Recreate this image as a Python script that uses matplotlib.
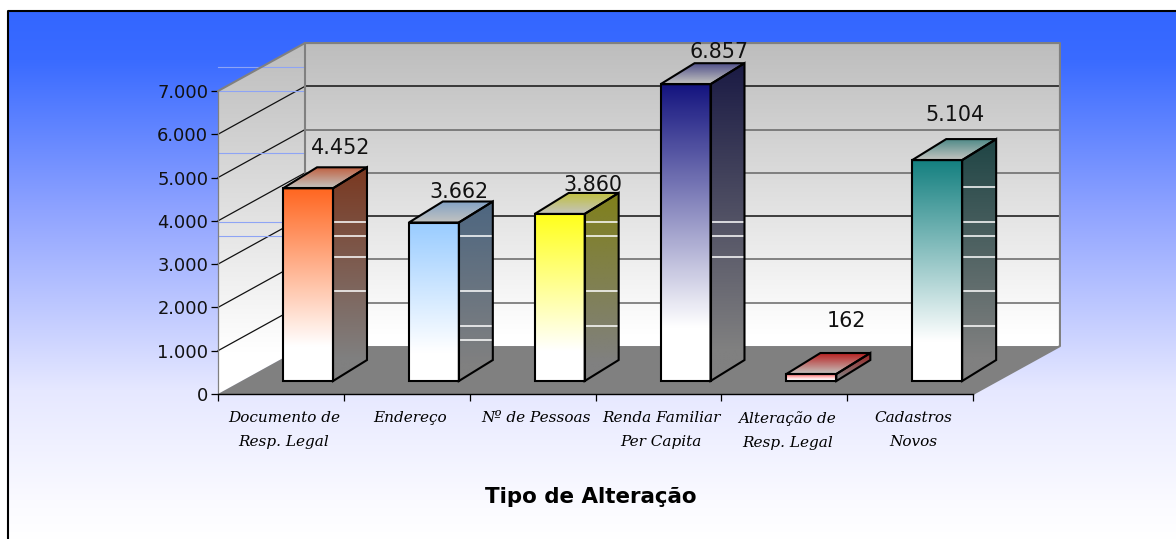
import numpy as np
import matplotlib
matplotlib.use("Agg")
import matplotlib.pyplot as plt
from matplotlib.colors import to_rgb
from matplotlib.patches import Polygon

categories = ["Documento de\nResp. Legal", "Endereço", "Nº de Pessoas",
              "Renda Familiar\nPer Capita", "Alteração de\nResp. Legal", "Cadastros\nNovos"]
values = [4452, 3662, 3860, 6857, 162, 5104]
value_labels = ["4.452", "3.662", "3.860", "6.857", "162", "5.104"]
yticks = [0, 1000, 2000, 3000, 4000, 5000, 6000, 7000]
ytick_labels = ["0", "1.000", "2.000", "3.000", "4.000", "5.000", "6.000", "7.000"]

front_colors = ["#ff6620", "#99ccff", "#ffff1a", "#14147f", "#ff5050", "#148080"]
side_colors = ["#7a3820", "#4d6680", "#80801a", "#1a1a44", "#a02020", "#1f4545"]
top_colors = ["#c06040", "#85a3c5", "#c0c040", "#50508a", "#b82020", "#4f8a88"]

# Pale streaks that show through the walls and the bar sides
streaks = {0: [3970, 3650, 3165, 2380], 1: [3650, 2380, 1570, 1245], 2: [3650, 3970, 2380, 1570],
           3: [3970, 3650, 3165], 4: [], 5: [4780, 3970, 3650, 3165, 2380, 1570]}
wall_streaks = [7550, 7000, 5565, 3970, 3650]

# depth of the floor and of one bar, in x and y data units
floor_dx, floor_dy = 0.691, 1108
bar_dx, bar_dy = 0.27, 485
bar_left, bar_width, bar_base = 0.517, 0.397, 300
label_dx = [16, 8, 16, 16, 18, 1]
label_dy = [19, 10, 8, 11, 32, 24]


def gradient(ax, pts, c0, c1, zorder, end=1.0):
    # vertical gradient clipped to a polygon, c0 at the top
    pts = np.array(pts)
    t = np.clip(np.linspace(0, 1 / end, 256), 0, 1)[:, None, None]
    img = np.array(to_rgb(c0))[None, None, :] * (1 - t) + np.array(to_rgb(c1))[None, None, :] * t
    im = ax.imshow(img, extent=[pts[:, 0].min(), pts[:, 0].max(), pts[:, 1].min(), pts[:, 1].max()],
                   origin="upper", aspect="auto", zorder=zorder, interpolation="bilinear")
    poly = Polygon(pts, closed=True, transform=ax.transData, fill=False, edgecolor="none", clip_on=False)
    ax.add_patch(poly)
    im.set_clip_box(ax.figure.bbox)
    im.set_clip_path(poly)


fig = plt.figure(figsize=(11.76, 5.39), dpi=100, facecolor="white")

# background panel
bg = fig.add_axes([0, 0, 1, 1])
bg.set_xlim(0, 1176)
bg.set_ylim(539, 0)
bg.axis("off")
rows = np.arange(11, 539)
stop_y = [11, 60, 210, 390, 500, 539]
stop_r = [0x33, 0x3a, 0x8f, 0xe6, 0xfa, 0xff]
stop_g = [0x66, 0x6b, 0xa3, 0xe8, 0xfa, 0xff]
stop_b = [0xff, 0xff, 0xff, 0xff, 0xff, 0xff]
panel = np.stack([np.interp(rows, stop_y, s) for s in (stop_r, stop_g, stop_b)], axis=1)[:, None, :] / 255
bg.imshow(panel, extent=[8, 1176, 539, 11], aspect="auto", zorder=0)
bg.set_xlim(0, 1176)
bg.set_ylim(539, 0)
bg.plot([8, 8, 1176], [539, 11, 11], color="black", lw=1.5, zorder=1)

ax = fig.add_axes([218 / 1176, (539 - 394) / 539, 755 / 1176, 303 / 539])
ax.patch.set_alpha(0)
n = len(values)
top = yticks[-1]

# walls and floor
gradient(ax, [(floor_dx, floor_dy), (n + floor_dx, floor_dy), (n + floor_dx, top + floor_dy), (floor_dx, top + floor_dy)],
         "#bdbdbd", "#ffffff", 1, end=0.96)
gradient(ax, [(0, 0), (floor_dx, floor_dy), (floor_dx, top + floor_dy), (0, top)],
         "#bdbdbd", "#ffffff", 1, end=0.88)
ax.add_patch(Polygon([(0, 0), (floor_dx, floor_dy), (n + floor_dx, floor_dy), (n, 0)],
                     closed=True, facecolor="#808080", edgecolor="none", zorder=2, clip_on=False))

# gridlines
grid_shade = ["#111111", "#666666", "#666666"]
for k, v in enumerate(yticks[1:-1]):
    ax.plot([floor_dx, n + floor_dx], [v + floor_dy, v + floor_dy],
            color=grid_shade[(5 - k) % 3], lw=1.1, zorder=3, clip_on=False)
    ax.plot([0, floor_dx], [v, v + floor_dy], color="#111111", lw=0.9, zorder=3, clip_on=False)
for v in wall_streaks:
    ax.plot([0, floor_dx], [v, v], color="#8ea4f5", lw=0.8, zorder=3, clip_on=False)

# wall outlines
edge = "#808080"
ax.plot([0, floor_dx, n + floor_dx, n + floor_dx, n], [top, top + floor_dy, top + floor_dy, floor_dy, 0],
        color=edge, lw=1.5, zorder=3, clip_on=False)
ax.plot([floor_dx, floor_dx], [floor_dy, top + floor_dy], color=edge, lw=1.5, zorder=3, clip_on=False)
ax.plot([0, 0], [0, top], color=edge, lw=0.9, zorder=3, clip_on=False)

# bars
for i, v in enumerate(values):
    x0 = i + bar_left
    x1 = x0 + bar_width
    y0 = bar_base
    y1 = bar_base + v
    z = 5 + i
    front = [(x0, y0), (x1, y0), (x1, y1), (x0, y1)]
    side = [(x1, y0), (x1 + bar_dx, y0 + bar_dy), (x1 + bar_dx, y1 + bar_dy), (x1, y1)]
    cap = [(x0, y1), (x1, y1), (x1 + bar_dx, y1 + bar_dy), (x0 + bar_dx, y1 + bar_dy)]
    gradient(ax, side, side_colors[i], "#808080", z, end=0.9)
    for s in streaks[i]:
        if bar_base < s < y1:
            ax.plot([x1, x1 + bar_dx], [s, s], color="white", lw=1.1, zorder=z, clip_on=False)
    gradient(ax, front, front_colors[i], "#ffffff", z, end=0.82)
    gradient(ax, cap, top_colors[i], "#c4c4c0", z)
    for pts in (side, cap, front):
        ax.add_patch(Polygon(pts, closed=True, fill=False, edgecolor="black", lw=1.5, zorder=z + 0.5,
                             joinstyle="miter", clip_on=False))
    ax.annotate(value_labels[i], (x0 + (bar_width + bar_dx) / 2, y1 + bar_dy),
                xytext=(label_dx[i], label_dy[i]), textcoords="offset pixels",
                ha="center", va="center", fontsize=14.9, color="#111111", zorder=20, annotation_clip=False)

ax.set_xlim(0, n)
ax.set_ylim(0, top)
for name in ["top", "right"]:
    ax.spines[name].set_visible(False)
ax.spines["left"].set_visible(False)
ax.spines["bottom"].set_color("black")
ax.spines["bottom"].set_linewidth(1.0)
ax.spines["bottom"].set_zorder(30)
ax.set_yticks(yticks)
ax.set_yticklabels(ytick_labels, fontsize=12.9, color="#111111")
ax.set_xticks(range(n + 1))
ax.set_xticklabels([])
ax.tick_params(axis="both", length=5, width=0.9, color="black", pad=2)

for i, c in enumerate(categories):
    ax.annotate(c, (i + 0.5, 0), xytext=(3, -17), textcoords="offset pixels", ha="center", va="top",
                family="DejaVu Serif", style="italic", fontsize=11, color="black",
                linespacing=1.95, annotation_clip=False)

bg.text(591, 497, "Tipo de Alteração", ha="center", va="center", fontsize=15.4, weight="bold", color="black")

fig.savefig("out.png", dpi=100)
